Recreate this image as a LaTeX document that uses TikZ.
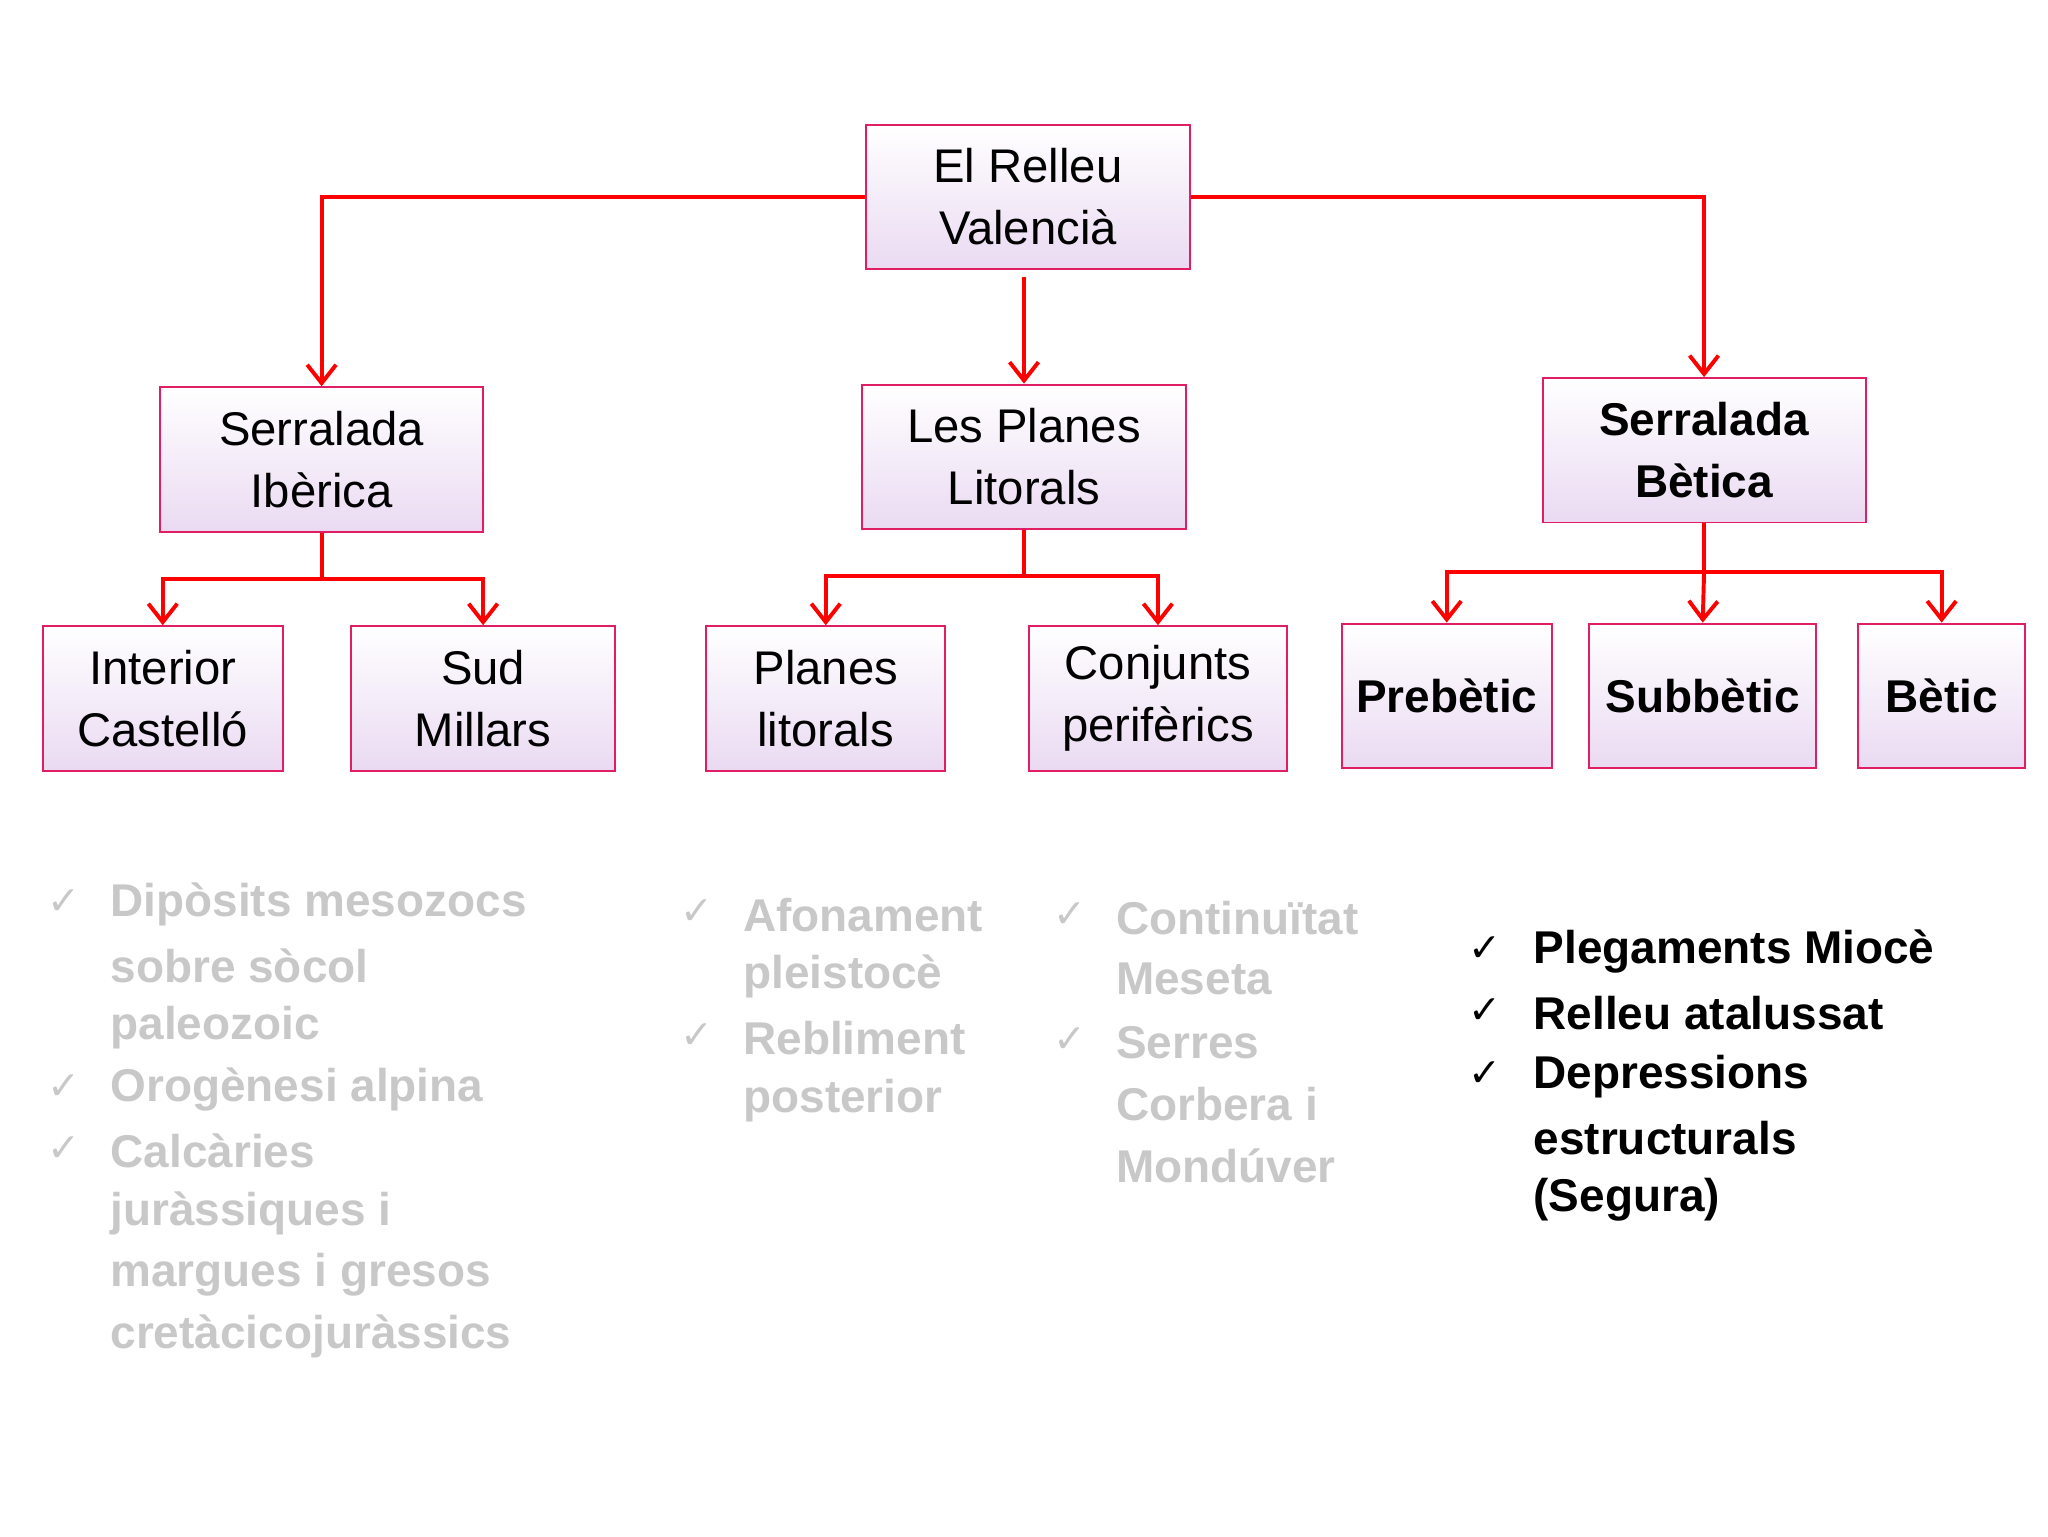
\documentclass[tikz,border=0pt]{standalone}
\usepackage{fontspec}
\setmainfont{Liberation Sans}
\newfontfamily\sym{DejaVu Sans}
\usetikzlibrary{arrows.meta}
\definecolor{bord}{RGB}{225,30,100}
\definecolor{lav}{RGB}{234,218,242}
\definecolor{gry}{RGB}{200,200,200}
\begin{document}
\begin{tikzpicture}[x=1pt,y=-1pt,
  box/.style={draw=bord,line width=1.5pt,top color=white,bottom color=lav,minimum height=110pt,inner sep=0pt,align=center,font=\fontsize{36}{47}\selectfont},
  bbox/.style={box,font=\fontsize{35}{47}\selectfont\bfseries},
  con/.style={draw=red,line width=3pt},
  arr/.style={con,-{Straight Barb[length=14pt,width=22pt,line width=3pt]}},
  itm/.style={anchor=west,inner sep=0pt,font=\fontsize{35}{47}\selectfont\bfseries,text=gry},
  chk/.style={anchor=west,inner sep=0pt,font=\fontsize{30}{47}\selectfont\sym,text=gry}]
\useasboundingbox (0,0) rectangle (1560,1170);
\node[box,minimum width=247pt] (root) at (783,150) {El Relleu\\Valencià};
\node[box,minimum width=246pt] (ib) at (245,350) {Serralada\\Ibèrica};
\node[box,minimum width=247pt] (pl) at (780,348) {Les Planes\\Litorals};
\node[bbox,minimum width=246pt] (be) at (1298,343) {Serralada\\Bètica};
\node[box,minimum width=183pt] (int) at (124,532) {Interior\\Castelló};
\node[box,minimum width=201pt] (sud) at (368,532) {Sud\\Millars};
\node[box,minimum width=182pt] (pli) at (629,532) {Planes\\litorals};
\node[box,minimum width=197pt] (con) at (882,532) {Conjunts\\perifèrics};
\node[bbox,minimum width=160pt] (pre) at (1102,530) {Prebètic};
\node[bbox,minimum width=173pt] (sub) at (1297,530) {Subbètic};
\node[bbox,minimum width=127pt] (bet) at (1479,530) {Bètic};
\draw[arr] (root.west) -| (ib.north);
\draw[arr] (root.east) -| (be.north);
\draw[arr] ([yshift=-5pt]root.south -| pl.north) -- (pl.north);
\coordinate (j1) at (245,441);
\draw[con] (ib.south) -- (j1);
\draw[arr] (j1) -| (int.north);
\draw[arr] (j1) -| (sud.north);
\coordinate (j2) at (780,439);
\draw[con] (pl.south) -- (j2);
\draw[arr] (j2) -| (pli.north);
\draw[arr] (j2) -| (con.north);
\coordinate (j3) at (1298,436);
\draw[con] (be.south) -- (j3);
\draw[arr] (j3) -| (pre.north);
\draw[arr] (j3) -- (sub.north);
\draw[arr] (j3) -| (bet.north);
% column 1
\node[chk] (c1a) at (36,687) {✓};
\node[chk] (c1b) at (36,828) {✓};
\node[chk] (c1c) at (36,875) {✓};
\node[itm] (t1a) at (84,689) {Dipòsits mesozocs};
\node[itm] (t1b) at (84,736) {sobre sòcol};
\node[itm] (t1c) at (84,783) {paleozoic};
\node[itm] (t1d) at (84,830) {Orogènesi alpina};
\node[itm] (t1e) at (84,877) {Calcàries};
\node[itm] (t1f) at (84,924) {juràssiques i};
\node[itm] (t1g) at (84,971) {margues i gresos};
\node[itm] (t1h) at (84,1018) {cretàcicojuràssics};
% column 2
\node[chk] (c2a) at (518,695) {✓};
\node[chk] (c2b) at (518,789) {✓};
\node[itm] (t2a) at (566,697) {Afonament};
\node[itm] (t2b) at (566,744) {pleistocè};
\node[itm] (t2c) at (566,791) {Rebliment};
\node[itm] (t2d) at (566,838) {posterior};
% column 3
\node[chk] (c3a) at (802,697) {✓};
\node[chk] (c3b) at (802,792) {✓};
\node[itm] (t3a) at (850,699) {Continuïtat};
\node[itm] (t3b) at (850,746) {Meseta};
\node[itm] (t3c) at (850,794) {Serres};
\node[itm] (t3d) at (850,841) {Corbera i};
\node[itm] (t3e) at (850,888) {Mondúver};
% column 4
\node[chk,text=black] (c4a) at (1118,723) {✓};
\node[chk,text=black] (c4b) at (1118,770) {✓};
\node[chk,text=black] (c4c) at (1118,818) {✓};
\node[itm,text=black] (t4a) at (1168,725) {Plegaments Miocè};
\node[itm,text=black] (t4b) at (1168,772) {Relleu atalussat};
\node[itm,text=black] (t4c) at (1168,820) {Depressions};
\node[itm,text=black] (t4d) at (1168,867) {estructurals};
\node[itm,text=black] (t4e) at (1168,914) {(Segura)};
\end{tikzpicture}
\end{document}
